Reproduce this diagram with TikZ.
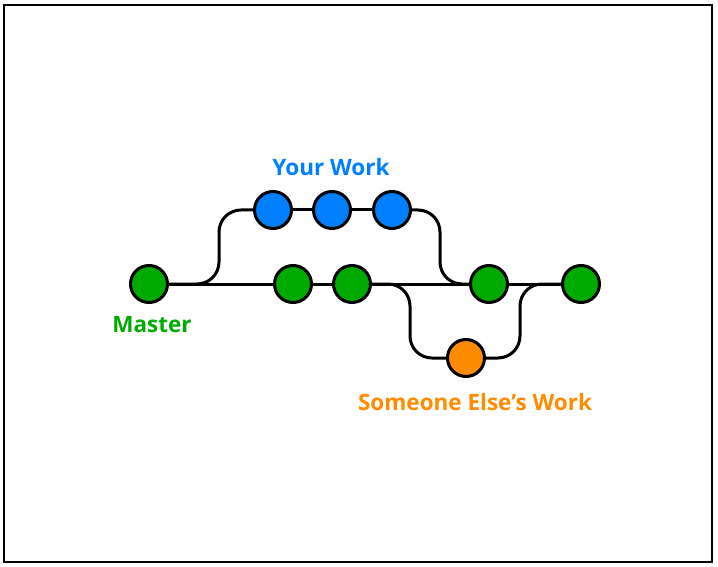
\documentclass[tikz,border=0pt]{standalone}
\usepackage{fontspec}
\setmainfont{Open Sans}
\usepackage{tikz}

\definecolor{workblue}{RGB}{0,128,255}
\definecolor{mastergreen}{RGB}{0,170,0}
\definecolor{otherorange}{RGB}{255,140,0}

\begin{document}
\begin{tikzpicture}[x=1pt, y=-1pt, line width=3pt,
	every node/.style={minimum size=37pt, inner sep=0pt},
	commit/.style={circle, draw=black},
	branch/.style={rounded corners=22pt},
	label/.style={font=\fontsize{22.5}{27}\selectfont\bfseries, minimum size=0pt}]
		\useasboundingbox (0,0) rectangle (718,567);
		\draw[line width=1.5pt] (4,5) rectangle (712,562);
		%Master
		\node [commit, fill=mastergreen] (m0) at (149,284) {};
		\node [commit, fill=mastergreen] (m1) at (293,284) {};
		\node [commit, fill=mastergreen] (m2) at (352,284) {};
		\node [commit, fill=mastergreen] (m3) at (489,284) {};
		\node [commit, fill=mastergreen] (m4) at (581,284) {};
		\draw (m0) -- (m1);
		\draw (m1) -- (m2);
		\draw (m2) -- (m3);
		\draw (m3) -- (m4);
		%Your work
		\node [commit, fill=workblue] (b1) at (273,210) {};
		\node [commit, fill=workblue] (b2) at (332,210) {};
		\node [commit, fill=workblue] (b3) at (392,210) {};
		\draw (b1) -- (b2);
		\draw (b2) -- (b3);
		\draw[branch] (m0) -| ([xshift=-54pt]b1.center) -- (b1);
		\draw[branch] (b3) -| ([xshift=-49pt]m3.center) -- (m3);
		%Someone else's work
		\node [commit, fill=otherorange] (o1) at (466,358) {};
		\draw[branch] (m2) -| ([xshift=-56pt]o1.center) -- (o1);
		\draw[branch] (o1) -| ([xshift=-61pt]m4.center) -- (m4);
		%Labels
		\node [label, text=workblue] (lwork) at (331,167) {Your Work};
		\node [label, text=mastergreen] (lmaster) at (152,325) {Master};
		\node [label, text=otherorange] (lother) at (475,402) {Someone Else’s Work};
\end{tikzpicture}
\end{document}
